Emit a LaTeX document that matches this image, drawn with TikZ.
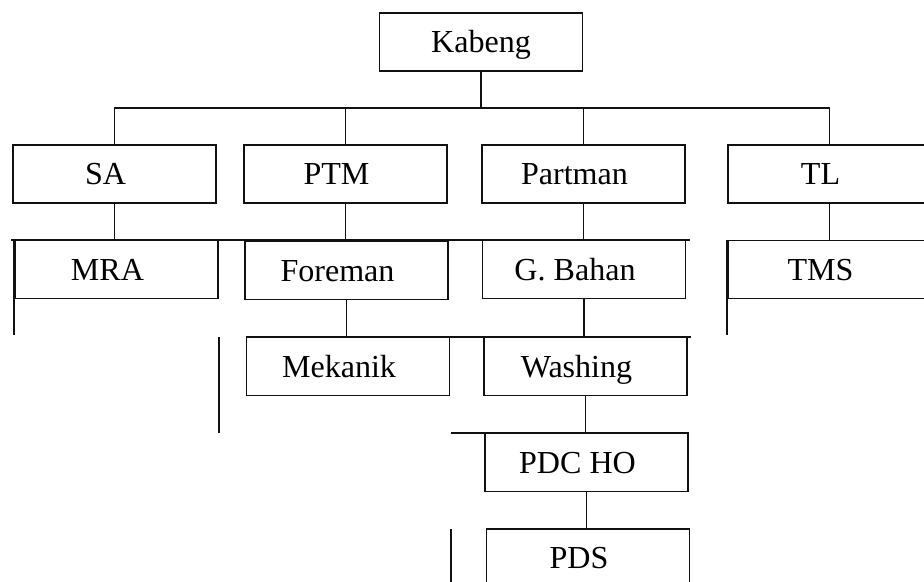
\documentclass[tikz,border=0pt]{standalone}
\usepackage{fontspec}
\setmainfont{Liberation Serif}
\usetikzlibrary{positioning}
\definecolor{inkblack}{HTML}{111111}

\tikzset{
  headbox/.style={draw=inkblack, line width=1.1pt, minimum width=5.075cm, minimum height=1.45cm,
    inner sep=0pt, text height=16.4pt, text depth=1.4pt, font=\fontsize{22.8}{26}\selectfont},
  unitbox/.style={headbox, execute at end node={\hspace{0.45cm}}},
  link/.style={draw=inkblack, line width=1.1pt}
}

\begin{document}
\begin{tikzpicture}[x=0.025cm, y=-0.025cm]
\useasboundingbox (0,0) rectangle (924,581);
\clip (0,0) rectangle (924,581);
\node[headbox] (kabeng) at (481,42) {Kabeng};
\node[unitbox] (sa) at (114.5,174) {SA};
\node[unitbox] (ptm) at (345.5,174) {PTM};
\node[unitbox] (partman) at (583.5,174) {Partman};
\node[unitbox] (tl) at (829.5,174) {TL};
\node[unitbox] (mra) at (116.5,269.5) {MRA};
\node[unitbox] (foreman) at (346.5,270.5) {Foreman};
\node[unitbox] (gbahan) at (584,269.5) {G. Bahan};
\node[unitbox] (tms) at (829.5,269.5) {TMS};
\node[unitbox] (mekanik) at (348,366.5) {Mekanik};
\node[unitbox] (washing) at (585.5,366.5) {Washing};
\node[unitbox] (pdcho) at (586.5,462.5) {PDC HO};
\node[unitbox] (pds) at (588,558) {PDS};
\coordinate (bus) at (0,108);
\draw[link] (sa.north) -- (sa.north |- bus) -- (tl.north |- bus) -- (tl.north);
\draw[link] (kabeng.south) -- (kabeng.south |- bus);
\draw[link] (ptm.north) -- (ptm.north |- bus);
\draw[link] (partman.north) -- (partman.north |- bus);
\draw[link] (sa.south) -- (sa.south |- mra.north);
\draw[link] (ptm.south) -- (ptm.south |- foreman.north);
\draw[link] (partman.south) -- (partman.south |- gbahan.north);
\draw[link] (tl.south) -- (tl.south |- tms.north);
\draw[link] (mra.north west) ++(-3,0) -- ([xshift=0.1cm]gbahan.north east);
\draw[link] (mra.north west) -- ++(0,95);
\draw[link] (tms.north west) -- ++(0,95);
\draw[link] (foreman.south) -- (foreman.south |- mekanik.north);
\draw[link] (gbahan.south) -- (gbahan.south |- washing.north);
\draw[link] (mekanik.north west) -- ([xshift=0.075cm]washing.north east);
\draw[link] (219,337) -- (219,433);
\draw[link] (washing.south) -- (washing.south |- pdcho.north);
\draw[link] (pdcho.north west) ++(-33,0) -- (pdcho.north east);
\draw[link] (pdcho.south) -- (pdcho.south |- pds.north);
\draw[link] (451,529) -- (451,600);
\end{tikzpicture}
\end{document}
